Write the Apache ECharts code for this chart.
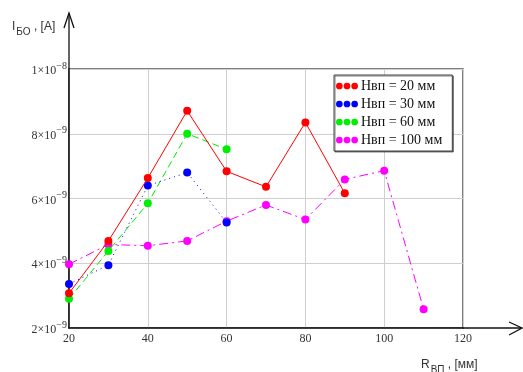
<!DOCTYPE html>
<html><head><meta charset="utf-8">
<script src="https://cdn.jsdelivr.net/npm/echarts@6/dist/echarts.min.js"></script>
<style>html,body{margin:0;padding:0;background:#fff}#c{width:523px;height:372px}</style>
</head><body><div id="c"></div>
<script>
const xValues = [20, 30, 40, 50, 60, 70, 80, 90, 100, 110];
const seriesNames = ['Нвп = 20 мм', 'Нвп = 30 мм', 'Нвп = 60 мм', 'Нвп = 100 мм'];
const h20 = [3.07e-9, 4.69e-9, 6.63e-9, 8.71e-9, 6.84e-9, 6.36e-9, 8.35e-9, 6.16e-9];
const h30 = [3.36e-9, 3.94e-9, 6.40e-9, 6.80e-9, 5.26e-9];
const h60 = [2.90e-9, 4.38e-9, 5.85e-9, 8.00e-9, 7.52e-9];
const h100 = [3.97e-9, 4.58e-9, 4.54e-9, 4.69e-9, 5.30e-9, 5.80e-9, 5.35e-9, 6.59e-9, 6.86e-9, 2.58e-9];
const xTicks = [20, 40, 60, 80, 100, 120];
const yTicks = [2e-9, 4e-9, 6e-9, 8e-9, 1e-8];
const yTickLabels = [['2', '−9'], ['4', '−9'], ['6', '−9'], ['8', '−9'], ['1', '−8']];

const colors = ['#ff0000', '#0000ff', '#00ee00', '#ff00ff'];
const dashes = ['solid', [1, 4], [7, 4], [9, 4, 2, 4]];
const allData = [h20, h30, h60, h100];

const chart = echarts.init(document.getElementById('c'));
const serif = '"Liberation Serif", "DejaVu Serif", serif';
const sans = '"Liberation Sans", Arial, sans-serif';

const series = allData.map((d, i) => ({
  name: seriesNames[i],
  type: 'line',
  data: d.map((v, k) => [xValues[k], v]),
  symbol: 'circle',
  symbolSize: 8,
  itemStyle: { color: colors[i] },
  lineStyle: { color: colors[i], width: 1, type: dashes[i] },
  z: 10 - i,
  animation: false
}));

const dots = 'path://M0,3.5a3.5,3.5 0 1,0 7,0a3.5,3.5 0 1,0 -7,0z M8,3.5a3.5,3.5 0 1,0 7,0a3.5,3.5 0 1,0 -7,0z M16,3.5a3.5,3.5 0 1,0 7,0a3.5,3.5 0 1,0 -7,0z';

chart.setOption({
  animation: false,
  backgroundColor: '#fff',
  grid: { left: 69, right: 60, top: 69, bottom: 44, show: true, borderColor: '#555', borderWidth: 1.5, backgroundColor: 'transparent' },
  xAxis: {
    type: 'value', min: xTicks[0], max: xTicks[xTicks.length - 1], interval: 20,
    axisLine: { show: true, onZero: false, lineStyle: { color: '#111', width: 1.5 } },
    axisTick: { show: false },
    axisLabel: { margin: 5, color: '#333', fontFamily: serif, fontSize: 12 },
    splitLine: { show: true, lineStyle: { color: '#cfcfcf', width: 1 } }
  },
  yAxis: {
    type: 'value', min: yTicks[0], max: yTicks[yTicks.length - 1], interval: 2e-9,
    axisLine: { show: true, onZero: false, lineStyle: { color: '#111', width: 1.5 } },
    axisTick: { show: false },
    axisLabel: {
      margin: 2, color: '#333',
      formatter: function (v) {
        let idx = 0, best = Infinity;
        yTicks.forEach((t, i) => { const d = Math.abs(t - v); if (d < best) { best = d; idx = i; } });
        return '{m|' + yTickLabels[idx][0] + '×10}{e|' + yTickLabels[idx][1] + '}';
      },
      rich: {
        m: { fontFamily: serif, fontSize: 12, color: '#333', padding: [4, 0, 0, 0] },
        e: { fontFamily: serif, fontSize: 10, color: '#333', padding: [0, 0, 6, 0] }
      }
    },
    splitLine: { show: true, lineStyle: { color: '#cfcfcf', width: 1 } }
  },
  legend: {
    orient: 'vertical', left: 334, top: 75,
    data: seriesNames,
    icon: dots, itemWidth: 22, itemHeight: 7, itemGap: 4,
    padding: [4, 10, 4, 2],
    backgroundColor: '#fff', borderColor: '#444', borderWidth: 1,
    shadowColor: 'rgba(0,0,0,0.5)', shadowOffsetX: 1, shadowOffsetY: 1, shadowBlur: 0,
    textStyle: { fontFamily: serif, fontSize: 14, color: '#111', lineHeight: 13, padding: [0, 0, 0, -2] },
    itemStyle: { borderWidth: 0 },
    lineStyle: { width: 0 }
  },
  series: series
});

const o = chart.convertToPixel({ gridIndex: 0 }, [xTicks[0], yTicks[0]]);
const tr = chart.convertToPixel({ gridIndex: 0 }, [xTicks[xTicks.length - 1], yTicks[yTicks.length - 1]]);
const stroke = { stroke: '#111', lineWidth: 1.3, fill: null };
chart.setOption({
  graphic: [
    { type: 'line', shape: { x1: o[0], y1: tr[1], x2: o[0], y2: 13 }, style: stroke, silent: true },
    { type: 'polyline', shape: { points: [[o[0] - 5, 28], [o[0], 13], [o[0] + 5, 28]] }, style: stroke, silent: true },
    { type: 'line', shape: { x1: tr[0], y1: o[1], x2: 522, y2: o[1] }, style: stroke, silent: true },
    { type: 'polyline', shape: { points: [[509, o[1] - 6], [522, o[1]], [509, o[1] + 7]] }, style: stroke, silent: true },
    {
      type: 'text', left: 12, top: 21, silent: true,
      style: {
        text: '{a|I}{s|БО}{a| , [A]}',
        rich: {
          a: { fontFamily: sans, fontSize: 12, fill: '#333', padding: [0, 0, 4, 0] },
          s: { fontFamily: sans, fontSize: 10, fill: '#333', padding: [6, 0, 0, 1] }
        }
      }
    },
    {
      type: 'text', left: 421, top: 359, silent: true,
      style: {
        text: '{a|R}{s|ВП}{a| , [мм]}',
        rich: {
          a: { fontFamily: sans, fontSize: 12, fill: '#333', padding: [0, 0, 4, 0] },
          s: { fontFamily: sans, fontSize: 10, fill: '#333', padding: [6, 0, 0, 1] }
        }
      }
    }
  ]
});
</script>
</body></html>
